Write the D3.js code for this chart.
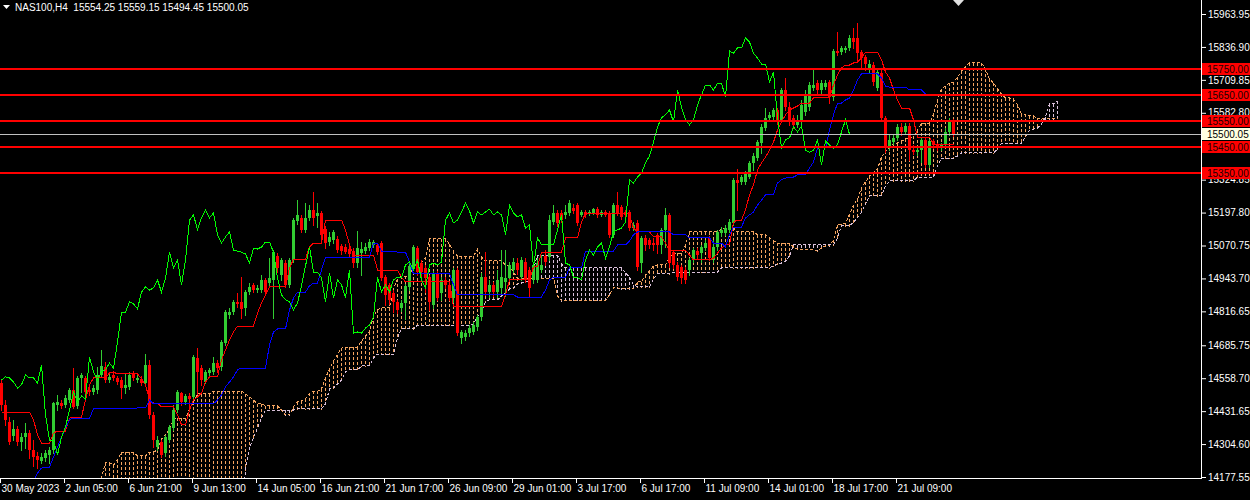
<!DOCTYPE html>
<html><head><meta charset="utf-8">
<script src="https://cdn.jsdelivr.net/npm/d3@7"></script>
<style>html,body{margin:0;padding:0;background:#000;}svg{display:block}</style>
</head><body>
<svg id="chart" width="1250" height="500"></svg>
<script>
// ---------- DATA ----------
const symbol = "NAS100,H4";
const lastBar = [15554.25, 15559.15, 15494.45, 15500.05];
const bid = 15500.05;
const levels = [15750, 15650, 15550, 15450, 15350];
const priceTicks = [15963.95, 15836.90, 15709.85, 15582.80, 15324.85, 15197.80, 15070.75, 14943.70, 14816.65, 14685.75, 14558.70, 14431.65, 14304.60, 14177.55];
const timeLabels = ["30 May 2023","2 Jun 05:00","6 Jun 21:00","9 Jun 13:00","14 Jun 05:00","16 Jun 21:00","21 Jun 17:00","26 Jun 09:00","29 Jun 01:00","3 Jul 17:00","6 Jul 17:00","11 Jul 09:00","14 Jul 01:00","18 Jul 17:00","21 Jul 09:00"];
const timeLabelBars = [0,16,32,48,64,80,96,112,128,144,160,176,192,208,224];
const chikouShift = 26;

const open = [
14540,14456,14390,14336,14363,14312,14332,14347,14282,14259,
14239,14251,14263,14282,14456,14463,14456,14475,14513,14452,
14560,14560,14513,14505,14513,14571,14602,14552,14571,14560,
14552,14521,14525,14575,14552,14556,14540,14610,14417,14293,
14312,14270,14320,14367,14436,14501,14467,14490,14486,14637,
14598,14544,14579,14583,14617,14602,14694,14803,14814,14853,
14853,14830,14891,14919,14899,14899,14938,14926,14938,15030,
14957,15003,14919,15015,15165,15177,15131,15177,15208,15185,
15196,15135,15084,15092,15096,15069,15065,15057,15049,15003,
15041,15049,15061,15073,15073,15080,14949,14919,14887,14853,
14830,14849,14911,14988,15061,15003,14984,14949,14842,14965,
14887,14938,14919,14868,14976,14714,14718,14733,14737,14756,
14795,14949,14891,14919,14891,14907,14930,14946,14976,15003,
14949,15007,14976,14938,14938,14976,15030,15026,15161,15196,
15196,15189,15196,15215,15227,15189,15200,15196,15196,15211,
15189,15200,15196,15112,15227,15219,15200,15200,15138,15158,
15003,15100,15092,15080,15112,15073,15131,15189,15045,14996,
14988,14976,14976,15015,15049,15041,15061,15100,15015,15065,
15119,15119,15131,15158,15324,15316,15316,15335,15389,15408,
15466,15524,15563,15567,15594,15555,15671,15605,15563,15536,
15547,15586,15605,15678,15697,15671,15682,15701,15643,15821,
15817,15825,15833,15871,15871,15817,15798,15756,15767,15678,
15736,15563,15447,15470,15486,15528,15509,15532,15439,15431,
15439,15478,15382,15474,15459,15447,15459,15509,15554.25];

const high = [
14552,14475,14409,14398,14375,14347,14386,14359,14320,14274,
14270,14282,14293,14467,14494,14475,14494,14521,14598,14567,
14579,14567,14533,14533,14602,14668,14621,14575,14583,14567,
14564,14579,14583,14587,14571,14567,14653,14629,14428,14336,
14320,14340,14379,14456,14513,14505,14498,14501,14649,14675,
14610,14591,14598,14641,14629,14706,14822,14829,14861,14887,
14949,14899,14926,14926,14919,14957,14946,15022,15053,15041,
15022,15015,15022,15177,15246,15189,15234,15227,15277,15234,
15204,15146,15123,15131,15108,15077,15077,15069,15061,15127,
15084,15080,15096,15092,15080,15088,14957,14926,14899,14861,
14861,14922,15007,15073,15069,15015,14996,14957,14972,14972,
14949,14949,14926,14984,14984,14745,14745,14764,14776,14803,
14965,15045,14938,14930,14976,15053,15053,15007,15022,15022,
15026,15022,14988,15007,15022,15034,15053,15189,15227,15208,
15208,15227,15246,15231,15234,15208,15208,15208,15215,15219,
15208,15208,15204,15234,15277,15227,15208,15208,15161,15169,
15108,15112,15100,15100,15119,15138,15215,15196,15053,15007,
14996,14988,15022,15061,15061,15073,15092,15108,15092,15131,
15142,15150,15173,15331,15366,15343,15358,15397,15428,15478,
15540,15601,15586,15601,15601,15678,15717,15624,15575,15575,
15632,15671,15701,15748,15709,15709,15709,15709,15829,15894,
15841,15841,15883,15910,15929,15825,15806,15787,15779,15756,
15748,15571,15497,15497,15540,15543,15543,15543,15459,15451,
15486,15486,15482,15482,15466,15466,15524,15563,15559.15];

const low = [
14436,14379,14305,14320,14301,14282,14289,14251,14220,14212,
14231,14239,14231,14270,14436,14444,14448,14467,14444,14444,
14505,14498,14494,14498,14501,14564,14544,14544,14552,14537,
14482,14501,14517,14552,14544,14533,14533,14405,14293,14282,
14255,14259,14312,14359,14428,14456,14460,14444,14478,14498,
14533,14540,14571,14575,14583,14591,14687,14791,14807,14834,
14791,14803,14884,14891,14891,14891,14884,14919,14791,14968,
14938,14911,14911,15007,15154,15123,15123,15169,15150,15142,
15092,15061,15073,15080,15045,15038,15041,15030,14988,14988,
14957,15041,15053,15065,15038,14938,14842,14846,14814,14810,
14818,14787,14899,14980,14957,14953,14891,14822,14830,14861,
14861,14907,14861,14853,14726,14694,14706,14722,14729,14745,
14783,14880,14872,14876,14872,14887,14876,14938,14968,14961,
14938,14930,14872,14926,14930,14968,14996,15015,15154,15146,
15161,15177,15189,15196,15150,15185,15181,15189,15193,15181,
15185,15185,15104,15104,15189,15173,15181,15131,15131,14976,
14968,15053,15061,15053,15041,15041,15065,14988,14984,14938,
14926,14926,14957,15007,15022,15007,15053,15015,15007,15053,
15108,15112,15123,15150,15208,15309,15309,15331,15362,15401,
15428,15516,15555,15559,15540,15547,15594,15536,15524,15528,
15536,15575,15594,15671,15659,15659,15674,15620,15632,15806,
15810,15817,15825,15833,15779,15756,15748,15740,15690,15671,
15555,15431,15439,15463,15478,15497,15501,15401,15424,15420,
15393,15374,15374,15447,15439,15439,15451,15497,15494.45];

const close = [
14456,14398,14312,14363,14312,14332,14347,14282,14255,14243,
14255,14270,14282,14463,14467,14452,14482,14513,14448,14560,
14571,14505,14505,14521,14571,14606,14552,14564,14560,14544,
14521,14533,14571,14560,14560,14540,14610,14417,14320,14320,
14263,14332,14371,14436,14505,14467,14490,14478,14641,14583,
14552,14583,14591,14617,14598,14698,14814,14814,14853,14846,
14826,14891,14911,14899,14907,14938,14891,14946,15045,14984,
15015,14919,15015,15169,15189,15131,15177,15208,15177,15196,
15112,15080,15104,15123,15053,15049,15045,15038,15003,15061,
15057,15065,15084,15084,15045,14946,14880,14861,14853,14822,
14849,14915,14992,15065,14968,14968,14946,14853,14965,14868,
14938,14919,14868,14976,14733,14737,14733,14752,14764,14795,
14949,14891,14919,14891,14938,14949,14946,14996,15007,14976,
15015,14938,14907,14996,15003,14996,15007,15169,15196,15158,
15169,15200,15234,15204,15158,15200,15189,15200,15211,15189,
15200,15189,15112,15227,15196,15181,15189,15138,15150,14988,
15100,15073,15073,15073,15073,15131,15189,15003,14996,14949,
14946,14938,15015,15053,15034,15065,15080,15022,15065,15123,
15131,15138,15161,15324,15312,15335,15350,15389,15416,15470,
15528,15563,15575,15594,15547,15671,15605,15555,15536,15555,
15613,15652,15690,15690,15671,15697,15697,15643,15821,15813,
15833,15833,15871,15856,15813,15794,15771,15771,15701,15740,
15563,15447,15478,15486,15528,15509,15532,15439,15431,15439,
15478,15382,15474,15459,15447,15459,15509,15555,15500.05];

const tenkan = [
14428,14428,14428,14428,14428,14428,14428,14428,14398,14340,
14308,14308,14308,14347,14355,14355,14355,14405,14409,14409,
14409,14475,14533,14560,14560,14560,14560,14579,14583,14575,
14575,14575,14575,14575,14575,14556,14533,14475,14463,14463,
14448,14448,14448,14448,14417,14379,14379,14436,14475,14486,
14501,14544,14564,14564,14564,14629,14668,14706,14737,14760,
14760,14760,14760,14760,14810,14849,14880,14911,14911,14911,
14911,14911,14984,15018,15018,15018,15018,15065,15080,15080,
15080,15169,15169,15169,15169,15169,15131,15073,15034,15034,
15034,15034,15034,15034,14976,14976,14976,14976,14976,14976,
14949,14930,14930,14930,14930,14930,14930,14930,14930,14930,
14930,14930,14930,14834,14834,14834,14834,14834,14834,14834,
14834,14834,14834,14834,14834,14834,14880,14938,14938,14938,
14938,14938,14938,14988,14988,15045,15045,15045,15045,15045,
15045,15100,15100,15100,15100,15161,15196,15196,15196,15196,
15196,15196,15196,15196,15196,15196,15196,15189,15138,15123,
15123,15123,15123,15104,15104,15104,15080,15053,15053,15053,
15053,15053,15034,15015,15015,15015,15015,15015,15022,15041,
15061,15073,15073,15161,15169,15169,15208,15266,15305,15362,
15389,15412,15439,15470,15516,15547,15575,15594,15601,15609,
15620,15620,15620,15640,15640,15640,15640,15640,15690,15729,
15756,15767,15767,15775,15779,15794,15817,15817,15817,15817,
15787,15740,15717,15671,15632,15601,15601,15601,15555,15489,
15489,15489,15489,15462,15462,15462,15462,15462,15462];

const kijun = [
14110,14110,14110,14110,14110,14110,14110,14110,14162,14193,
14212,14216,14216,14255,14293,14332,14367,14398,14405,14405,
14405,14405,14405,14440,14440,14440,14440,14440,14440,14440,
14440,14440,14440,14440,14444,14444,14444,14475,14460,14460,
14460,14460,14460,14460,14460,14460,14460,14460,14460,14460,
14460,14460,14460,14460,14475,14494,14525,14544,14564,14591,
14598,14598,14598,14598,14598,14598,14598,14687,14737,14749,
14749,14749,14822,14868,14891,14891,14891,14915,14926,14926,
14976,15026,15026,15026,15026,15026,15026,15026,15026,15026,
15026,15026,15026,15080,15080,15049,15049,15049,15049,15045,
15045,15045,15007,14961,14961,14961,14961,14961,14961,14961,
14961,14961,14961,14919,14880,14880,14880,14880,14880,14880,
14880,14880,14880,14880,14880,14880,14880,14880,14880,14872,
14872,14872,14872,14872,14872,14872,14899,14938,14949,14949,
14949,14949,14984,14984,14984,14984,15049,15049,15049,15049,
15049,15049,15049,15049,15073,15073,15073,15088,15112,15123,
15123,15123,15123,15123,15123,15123,15123,15123,15112,15112,
15112,15112,15100,15100,15100,15100,15100,15100,15080,15080,
15080,15065,15112,15142,15142,15142,15177,15189,15200,15227,
15246,15266,15266,15266,15312,15324,15331,15335,15335,15343,
15343,15343,15370,15393,15447,15447,15447,15516,15575,15620,
15620,15632,15640,15671,15709,15733,15733,15733,15733,15733,
15717,15686,15682,15682,15682,15682,15682,15671,15671,15671,
15671,15655,15655,15655,15655,15655,15655,15655,15655];

const spanA = [
14108,14108,14108,14108,14108,14108,14108,14108,14108,14108,
14108,14108,14108,14108,14108,14108,14108,14108,14108,14108,
14108,14108,14108,14108,14147,14178,14232,14232,14224,14243,
14274,14274,14274,14274,14259,14259,14259,14274,14274,14282,
14324,14343,14359,14402,14405,14405,14405,14440,14467,14498,
14498,14498,14498,14509,14509,14509,14509,14509,14509,14509,
14509,14498,14486,14475,14460,14460,14452,14452,14452,14452,
14436,14417,14417,14448,14467,14471,14479,14501,14509,14509,
14517,14560,14594,14625,14649,14675,14679,14679,14679,14679,
14702,14722,14737,14799,14822,14830,14830,14830,14903,14941,
14953,14953,14953,14988,15003,15003,15026,15096,15096,15096,
15096,15096,15076,15049,15030,15030,15030,15030,15030,15057,
15026,15011,15011,15011,15011,15011,14996,14988,14968,14945,
14945,14945,14945,14945,14945,14945,14945,14945,14945,14876,
14857,14857,14857,14857,14857,14857,14857,14857,14857,14857,
14857,14857,14880,14907,14907,14903,14903,14903,14903,14930,
14930,14957,14972,14992,14996,14996,14996,15022,15041,15041,
15041,15073,15123,15123,15123,15123,15123,15123,15123,15123,
15135,15135,15135,15138,15123,15123,15123,15123,15123,15112,
15112,15112,15100,15088,15080,15080,15080,15080,15065,15057,
15057,15057,15057,15057,15049,15061,15069,15069,15092,15150,
15154,15154,15192,15227,15250,15293,15316,15339,15351,15366,
15412,15435,15451,15462,15466,15474,15482,15482,15493,15516,
15543,15543,15543,15578,15632,15675,15686,15698,15702,15721,
15744,15763,15775,15775,15775,15775,15752,15713,15698,15675,
15655,15640,15640,15636,15613,15578,15578,15571,15571,15559,
15559,15559,15559,15559,15559];

const spanB = [
14012,14012,14012,14012,14012,14012,14012,14012,14012,14012,
14012,14012,14012,14012,14012,14012,14012,14012,14012,14012,
14012,14012,14012,14012,14012,14012,14012,14012,14012,14012,
14012,14012,14012,14012,14012,14012,14012,14012,14012,14012,
14012,14012,14012,14012,14012,14012,14012,14012,14012,14012,
14012,14012,14012,14012,14012,14012,14012,14012,14012,14012,
14012,14205,14289,14328,14367,14405,14436,14436,14436,14436,
14436,14436,14436,14436,14440,14440,14440,14440,14440,14440,
14440,14460,14517,14521,14537,14552,14583,14591,14591,14591,
14606,14606,14606,14637,14652,14652,14652,14652,14652,14714,
14749,14749,14749,14749,14764,14764,14764,14764,14764,14764,
14764,14764,14764,14764,14764,14764,14764,14764,14768,14795,
14818,14853,14861,14861,14861,14876,14887,14903,14907,14922,
14926,14930,14934,14980,15034,15034,15034,15034,15034,15034,
14999,14984,14984,14984,14984,14984,14984,14984,14984,14984,
14984,14984,14984,14984,14984,14984,14965,14949,14919,14911,
14911,14911,14911,14942,14961,14961,14961,14961,14968,14968,
14968,14968,14968,14968,14968,14968,14968,14968,14968,14968,
14984,14984,14984,14984,14984,14984,14984,14984,14984,14984,
14984,14984,14984,14992,14999,15003,15011,15030,15073,15073,
15073,15073,15073,15073,15073,15073,15073,15073,15073,15100,
15146,15146,15146,15161,15177,15200,15231,15262,15262,15262,
15262,15300,15320,15320,15320,15320,15320,15320,15320,15335,
15335,15335,15335,15335,15378,15408,15408,15408,15408,15416,
15428,15428,15428,15428,15428,15428,15428,15428,15428,15443,
15466,15466,15466,15466,15466,15466,15489,15516,15520,15524,
15540,15567,15617,15617,15628];

// ---------- STYLE ----------
const W = 1250, H = 500, plotR = 1201, plotB = 478;
const FONT = "'Liberation Sans', Arial, sans-serif";
const colBull = "#32CD32", colBear = "#FF0000";
const colA = "#F4A460", colB = "#D8BFD8";

const x = d3.scaleLinear().domain([0, 1]).range([1.5, 5.5]);
const y = d3.scaleLinear().domain([14177.55, 15963.95]).range([477, 14]);

const svg = d3.select('#chart');
svg.append('rect').attr('width', W).attr('height', H).attr('fill', '#000');
svg.append('defs').append('clipPath').attr('id', 'plot')
  .append('rect').attr('x', 0).attr('y', 0).attr('width', plotR).attr('height', plotB);
const g = svg.append('g').attr('clip-path', 'url(#plot)');

// cloud hatch: dotted vertical strokes (3px on / 2px off) per bar between the spans
const dashes = [];
d3.range(spanA.length).forEach(i => {
  const top = Math.max(0, Math.round(y(Math.max(spanA[i], spanB[i]))));
  const bot = Math.min(plotB, Math.round(y(Math.min(spanA[i], spanB[i]))));
  const c = spanA[i] >= spanB[i] ? colA : colB;
  for (let k = top; k <= bot; k += 5) dashes.push({ i, k, h: Math.min(3, bot - k + 1), c });
});
g.append('g').attr('shape-rendering', 'crispEdges')
  .selectAll('rect').data(dashes).join('rect')
  .attr('x', d => x(d.i) - 0.5).attr('y', d => d.k).attr('width', 1).attr('height', d => d.h)
  .attr('fill', d => d.c);

const line = d3.line().x((d, i) => x(i)).y(d => y(d));
g.append('path').attr('d', line(spanA)).attr('fill', 'none').attr('stroke', colA)
  .attr('stroke-width', 1).attr('stroke-dasharray', '3,2').attr('shape-rendering', 'crispEdges');
g.append('path').attr('d', line(spanB)).attr('fill', 'none').attr('stroke', colB)
  .attr('stroke-width', 1).attr('stroke-dasharray', '3,2').attr('shape-rendering', 'crispEdges');

// candles
const bars = d3.range(close.length);
const cg = g.append('g').attr('shape-rendering', 'crispEdges');
const col = i => close[i] >= open[i] ? colBull : colBear;
cg.selectAll('line').data(bars).join('line')
  .attr('x1', i => x(i)).attr('x2', i => x(i))
  .attr('y1', i => Math.round(y(high[i]))).attr('y2', i => Math.round(y(low[i])) + 1)
  .attr('stroke', col).attr('stroke-width', 1);
cg.selectAll('rect').data(bars).join('rect')
  .attr('x', i => x(i) - 1.5).attr('width', 3)
  .attr('y', i => Math.round(y(Math.max(open[i], close[i]))))
  .attr('height', i => Math.max(1, Math.round(y(Math.min(open[i], close[i]))) - Math.round(y(Math.max(open[i], close[i])))))
  .attr('fill', col);

// ichimoku lines
const addLine = (data, color) => g.append('path').attr('d', line(data)).attr('fill', 'none')
  .attr('stroke', color).attr('stroke-width', 1).attr('shape-rendering', 'crispEdges');
addLine(tenkan, '#FF0000');
addLine(kijun, '#0000FF');
addLine(close.slice(chikouShift), '#00FF00');

// horizontal levels
levels.forEach(v => {
  const yy = Math.round(y(v));
  svg.append('line').attr('x1', 0).attr('x2', plotR).attr('y1', yy).attr('y2', yy)
    .attr('stroke', '#FF0000').attr('stroke-width', 2).attr('shape-rendering', 'crispEdges');
});
const yb = Math.round(y(bid)) + 0.5;
svg.append('line').attr('x1', 0).attr('x2', plotR).attr('y1', yb).attr('y2', yb)
  .attr('stroke', '#C0C0C0').attr('stroke-width', 1).attr('shape-rendering', 'crispEdges');

// axes frame
svg.append('line').attr('x1', plotR + 0.5).attr('x2', plotR + 0.5).attr('y1', 0).attr('y2', plotB + 1)
  .attr('stroke', '#fff').attr('shape-rendering', 'crispEdges');
svg.append('line').attr('x1', 0).attr('x2', plotR + 1).attr('y1', plotB + 0.5).attr('y2', plotB + 0.5)
  .attr('stroke', '#fff').attr('shape-rendering', 'crispEdges');

// price axis
const ya = svg.append('g').attr('transform', `translate(${plotR + 1},0)`)
  .call(d3.axisRight(y).tickValues(priceTicks).tickFormat(d3.format('.2f')).tickSize(4).tickSizeOuter(0).tickPadding(2));
ya.select('.domain').remove();
ya.selectAll('line').attr('stroke', '#fff');
ya.selectAll('text').attr('fill', '#fff').attr('font-family', FONT).attr('font-size', 10);

// time axis
const xa = svg.append('g').attr('transform', `translate(-1.5,${plotB + 1})`)
  .call(d3.axisBottom(x).tickValues(timeLabelBars).tickFormat((d, i) => timeLabels[i]).tickSize(4).tickSizeOuter(0).tickPadding(2));
xa.select('.domain').remove();
xa.selectAll('line').attr('stroke', '#fff');
xa.selectAll('text').attr('fill', '#fff').attr('font-family', FONT).attr('font-size', 10)
  .attr('text-anchor', 'start').attr('dx', 1);

// price labels on axis
const tag = (v, txt, bg, fg) => {
  const yy = Math.round(y(v));
  svg.append('rect').attr('x', plotR + 1).attr('y', yy - 6).attr('width', W - plotR - 1).attr('height', 12)
    .attr('fill', bg).attr('shape-rendering', 'crispEdges');
  svg.append('text').attr('x', plotR + 6).attr('y', yy).attr('dy', '0.35em')
    .attr('fill', fg).attr('font-family', FONT).attr('font-size', 10).text(txt);
};
levels.forEach(v => tag(v, d3.format('.2f')(v), '#FF0000', '#200000'));
tag(bid, d3.format('.2f')(bid), '#FFFFE0', '#000');

// title
svg.append('path').attr('d', 'M3,5 L10,5 L6.5,9 Z').attr('fill', '#fff');
svg.append('text').attr('x', 15).attr('y', 11).attr('fill', '#fff').attr('font-family', FONT).attr('font-size', 10)
  .attr('xml:space', 'preserve')
  .text(symbol + '  ' + lastBar.map(d3.format('.2f')).join(' '));

// chart shift marker
svg.append('path').attr('d', 'M953,0 L964,0 L958.5,6 Z').attr('fill', '#e0e0e0');
</script>
</body></html>
